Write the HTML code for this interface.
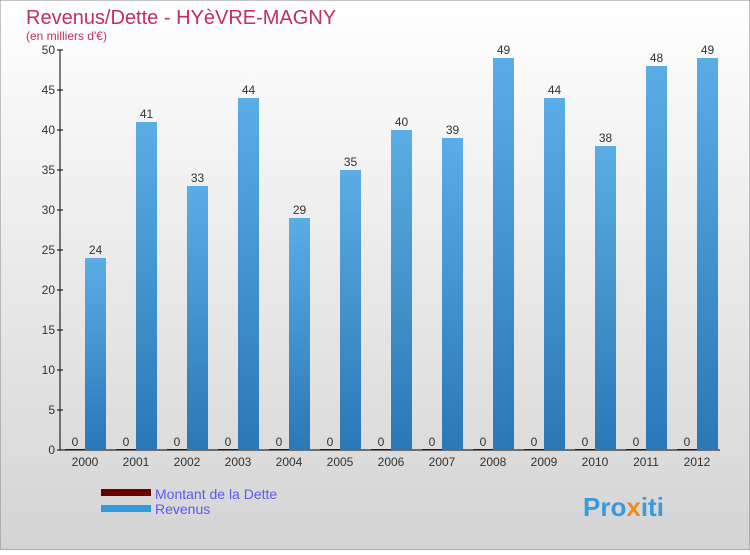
<!DOCTYPE html>
<html><head><meta charset="utf-8"><style>
html,body{margin:0;padding:0}
body{width:750px;height:550px;overflow:hidden;font-family:"Liberation Sans",sans-serif}
</style></head><body>
<svg width="750" height="550" xmlns="http://www.w3.org/2000/svg">
<defs>
<linearGradient id="bg" x1="0" y1="0" x2="0" y2="1"><stop offset="0" stop-color="#ffffff"/><stop offset="1" stop-color="#d4d4d4"/></linearGradient>
<linearGradient id="rev" x1="0" y1="0" x2="0" y2="1"><stop offset="0" stop-color="#5aade6"/><stop offset="1" stop-color="#2a78b6"/></linearGradient>
</defs>
<rect x="0" y="0" width="750" height="550" fill="url(#bg)" stroke="#888"/>
<text x="26" y="24" font-size="20" fill="#c0305f">Revenus/Dette - HYèVRE-MAGNY</text>
<text x="26" y="40" font-size="12" fill="#c0305f">(en milliers d'€)</text>
<g id="axes"></g>
<g id="bars"></g>
<g>
<rect x="101" y="489" width="50" height="7" fill="#6a0000"/>
<text x="155" y="499" font-size="14" fill="#5b5bf0">Montant de la Dette</text>
<rect x="101" y="505" width="50" height="7" fill="#3399dd"/>
<text x="155" y="514" font-size="14" fill="#5b5bf0">Revenus</text>
</g>
<text x="583" y="516" font-size="26" font-weight="bold" fill="#3a9ad9">Pro<tspan fill="#f08a1c">x</tspan>iti</text>
</svg>
<script>
const years=["2000","2001","2002","2003","2004","2005","2006","2007","2008","2009","2010","2011","2012"];
const dette=[0,0,0,0,0,0,0,0,0,0,0,0,0];
const revenus=[24,41,33,44,29,35,40,39,49,44,38,48,49];
const yTicks=[0,5,10,15,20,25,30,35,40,45,50];
const NS="http://www.w3.org/2000/svg";
const x0=60,x1=720,yBase=450,yTop=50,yMax=50;
const y=v=>yBase-(v/yMax)*(yBase-yTop);
const xc=i=>85+i*51;
function mk(t,a,p){const e=document.createElementNS(NS,t);for(const k in a)e.setAttribute(k,a[k]);p.appendChild(e);return e;}
const ax=document.getElementById('axes'),bg=document.getElementById('bars');
let l=mk('line',{x1:x0,y1:yTop,x2:x0,y2:yBase,stroke:'#000'},ax);


l=mk('line',{x1:x0,y1:yBase,x2:x1,y2:yBase,stroke:'#000'},ax);


yTicks.forEach(v=>{
 mk('line',{x1:x0-3,y1:y(v),x2:x0+3,y2:y(v),stroke:'#000'},ax);
 const t=mk('text',{x:x0-5,y:y(v)+4,'text-anchor':'end','font-size':12,fill:'#333'},ax);
 t.textContent=v;
 
 
});
years.forEach((yr,i)=>{
 const c=xc(i);
 const t=mk('text',{x:c,y:466,'text-anchor':'middle','font-size':12,fill:'#333'},ax);
 t.textContent=yr;
 
 
 const d=mk('rect',{x:c-20,y:y(dette[i])-1,width:20,height:Math.max(1,yBase-y(dette[i]))+0,fill:'#6a0000'},bg);
 
 
 const dl=mk('text',{x:c-10,y:y(dette[i])-4,'text-anchor':'middle','font-size':12,fill:'#333'},bg);
 dl.textContent=dette[i];
 
 
 const r=mk('rect',{x:c,y:y(revenus[i]),width:21,height:yBase-y(revenus[i]),fill:'url(#rev)'},bg);
 
 
 const rl=mk('text',{x:c+10.5,y:y(revenus[i])-4,'text-anchor':'middle','font-size':12,fill:'#333'},bg);
 rl.textContent=revenus[i];
 
 
});
</script>
</body></html>
